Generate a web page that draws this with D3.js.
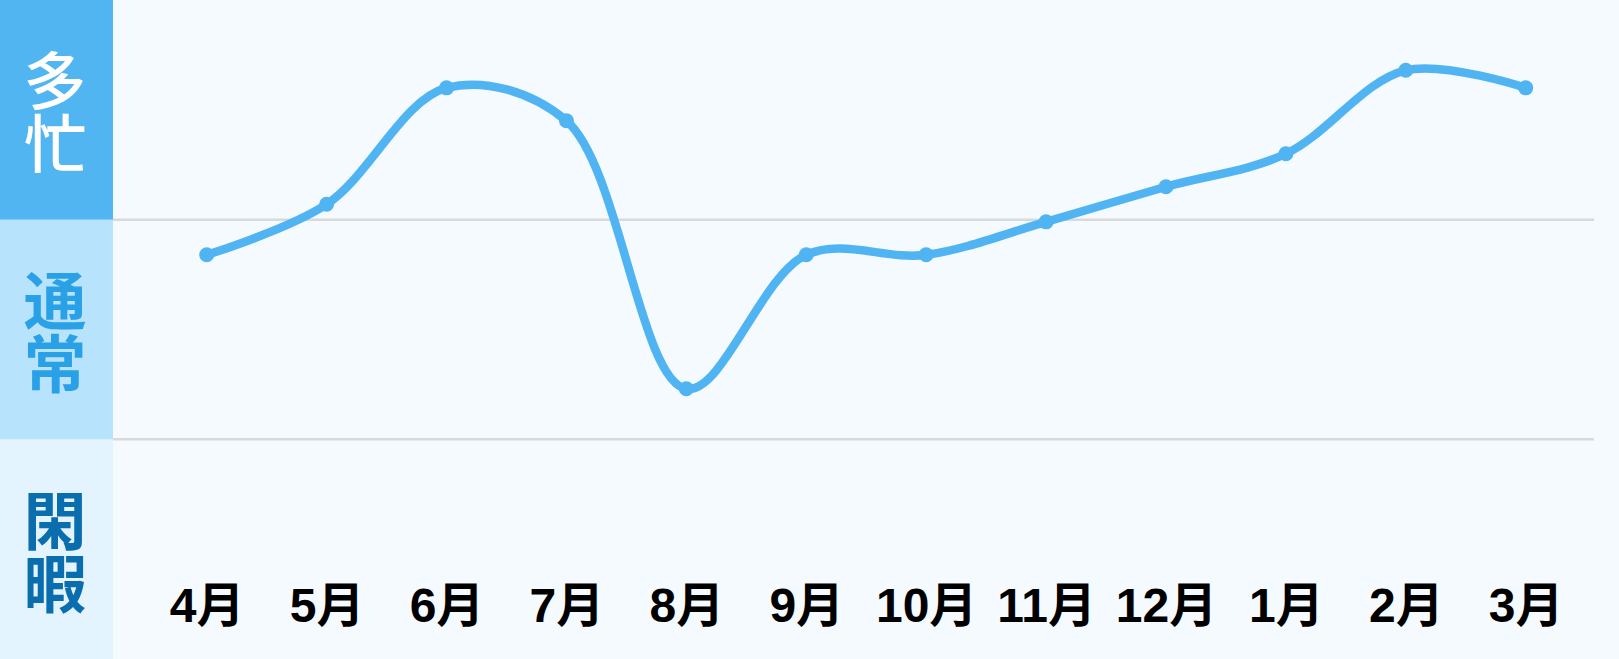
<!DOCTYPE html>
<html>
<head>
<meta charset="utf-8">
<script src="https://cdn.jsdelivr.net/npm/d3@7"></script>
<style>
  html, body { margin: 0; padding: 0; background: #F5FAFF; }
  svg { display: block; }
</style>
</head>
<body>
<svg id="chart" width="1619" height="659"></svg>
<script>
// ---- data ----
const months = ["4月", "5月", "6月", "7月", "8月", "9月", "10月", "11月", "12月", "1月", "2月", "3月"];
const busyness = [1.84, 2.07, 2.60, 2.45, 1.23, 1.84, 1.84, 1.99, 2.15, 2.30, 2.68, 2.60];
const levels = ["閑暇", "通常", "多忙"];          // bottom → top
const levelFills = ["#E3F4FE", "#B8E3FC", "#51B5F2"];
const levelTextColors = ["#0A6DAE", "#2AA1E6", "#FFFFFF"];
const levelWeights = [700, 700, 500];

const W = 1619, H = 659;
const svg = d3.select("#chart");

const x = d3.scalePoint().domain(months).range([206.7, 1525.7]);
const y = d3.scaleLinear().domain([0, levels.length]).range([H, 0]);

// plot background
svg.append("rect").attr("x", 0).attr("y", 0).attr("width", W).attr("height", H).attr("fill", "#F5FAFF");

// left level bands
const bandW = 113;
const bands = svg.append("g");
levels.forEach((lv, i) => {
  bands.append("rect")
    .attr("x", 0).attr("y", y(i + 1))
    .attr("width", bandW).attr("height", y(i) - y(i + 1))
    .attr("fill", levelFills[i]);
  const cy = (y(i) + y(i + 1)) / 2 + 2;
  const fs = 63;
  // vertical text: one text element, characters stacked top to bottom
  bands.append("text")
    .attr("x", 55)
    .attr("y", cy - fs)
    .attr("text-anchor", "start")
    .style("writing-mode", "vertical-rl")
    .style("text-orientation", "upright")
    .attr("font-family", "'Noto Sans CJK JP', sans-serif")
    .attr("font-weight", levelWeights[i])
    .attr("font-size", fs)
    .attr("fill", levelTextColors[i])
    .text(lv);
});

// gridlines at level boundaries
const grid = svg.append("g");
d3.range(1, levels.length).forEach(v => {
  grid.append("line")
    .attr("x1", bandW).attr("x2", 1594)
    .attr("y1", y(v)).attr("y2", y(v))
    .attr("stroke", "#D9D9D9").attr("stroke-width", 2.5);
});

// month axis
const axis = svg.append("g")
  .call(d3.axisBottom(x).tickSize(0));
axis.select(".domain").remove();
axis.selectAll("text")
  .attr("y", 622).attr("dy", null)
  .attr("font-family", "'Liberation Sans', 'Noto Sans CJK JP', sans-serif")
  .attr("font-weight", 700)
  .attr("font-size", 48)
  .attr("fill", "#000");

// line
const line = d3.line()
  .x((d, i) => x(months[i]))
  .y(d => y(d))
  .curve(d3.curveCatmullRom.alpha(0.5));

svg.append("path")
  .datum(busyness)
  .attr("d", line)
  .attr("fill", "none")
  .attr("stroke", "#50B4F2")
  .attr("stroke-width", 8.5)
  .attr("stroke-linecap", "round");

svg.append("g").selectAll("circle")
  .data(busyness)
  .join("circle")
  .attr("cx", (d, i) => x(months[i]))
  .attr("cy", d => y(d))
  .attr("r", 7.5)
  .attr("fill", "#50B4F2");
</script>
</body>
</html>
